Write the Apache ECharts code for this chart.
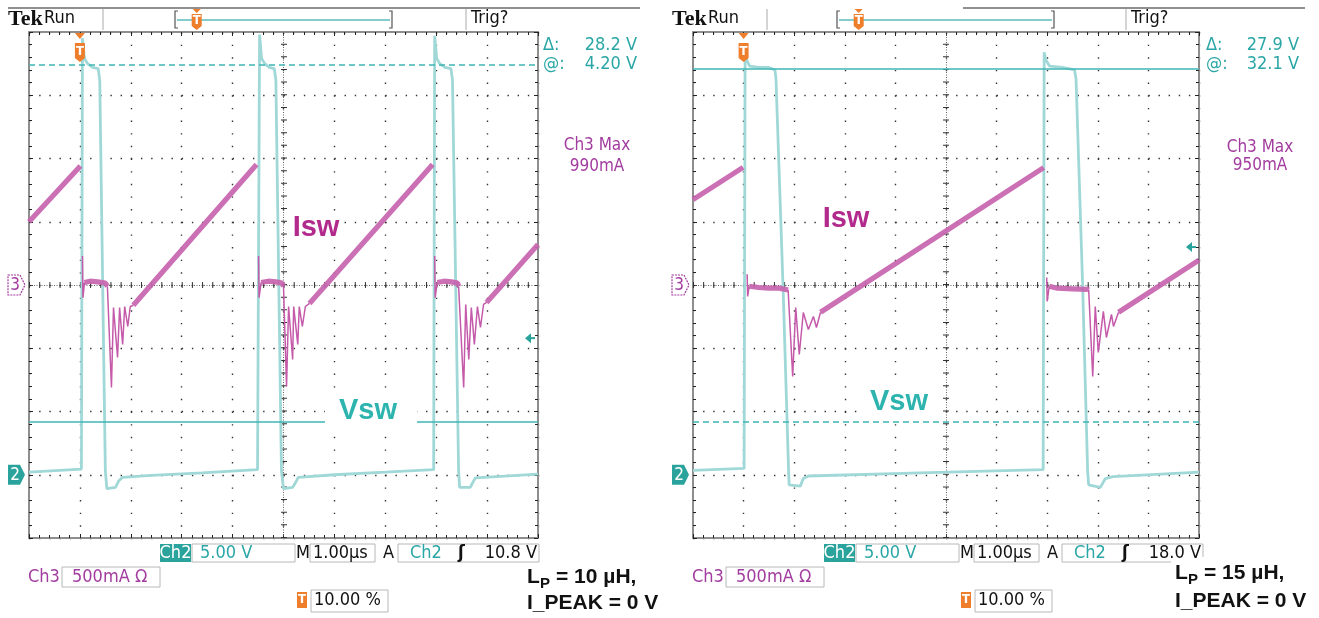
<!DOCTYPE html>
<html>
<head>
<meta charset="utf-8">
<title>Isw / Vsw scope captures</title>
<script src="https://cdn.jsdelivr.net/npm/echarts@6/dist/echarts.min.js"></script>
<style>
  html, body { margin: 0; padding: 0; background: #fff; }
  #chart { width: 1319px; height: 618px; }
</style>
</head>
<body>
<div id="chart"></div>
<script>
// time in µs (1 µs/div), Isw = Ch3 in mA (500 mA/div), Vsw = Ch2 in V (5 V/div)
// null = the trace breaks there

// --- L_P = 10 µH ---
const isw10Body = [
  [0, 500], [1.01, 940], null,
  [1.09, 20], [1.2, 30], [1.35, 25], [1.5, 15], [1.54, -10], null,
  [2.05, -160], [4.47, 952], null,
  [4.56, 20], [4.7, 30], [4.85, 25], [4.97, 15], [5.0, -10], null,
  [5.51, -146], [7.93, 952], null,
  [8.02, 20], [8.15, 30], [8.3, 25], [8.42, 15], [8.44, -10], null,
  [8.99, -138], [10, 320]
];
const isw10Ring = [
  [1.05, 230], [1.06, -100], [1.09, 20], null,
  [1.54, -10], [1.62, -810], [1.66, -178], [1.74, -573], [1.78, -178], [1.84, -470],
  [1.88, -170], [1.94, -328], [1.99, -170], [2.05, -160], null,
  [4.51, 230], [4.52, -100], [4.56, 20], null,
  [5.0, -10], [5.06, -802], [5.10, -170], [5.18, -589], [5.20, -170], [5.28, -470],
  [5.31, -170], [5.37, -328], [5.43, -170], [5.51, -146], null,
  [7.97, 230], [7.98, -100], [8.02, 20], null,
  [8.44, -10], [8.54, -810], [8.58, -154], [8.64, -589], [8.69, -178], [8.75, -470],
  [8.81, -170], [8.87, -336], [8.93, -154], [8.99, -138]
];
const vsw10 = [
  [0, 0.2], [1.03, 0.45], [1.05, 34.5], [1.09, 32.9], [1.15, 32.5], [1.25, 32.2], [1.36, 32.1],
  [1.39, 31.2], [1.50, 0.3], [1.53, -1.1], [1.70, -1.0], [1.76, -0.5], [1.84, -0.2], [2.4, -0.05],
  [3.4, 0.15], [4.49, 0.4],
  [4.53, 34.8], [4.57, 32.9], [4.63, 32.5], [4.72, 32.2], [4.82, 32.1], [4.85, 31.2], [4.96, 0.3],
  [5.0, -1.1], [5.18, -1.0], [5.24, -0.6], [5.29, -0.2], [6.0, 0.0], [7.0, 0.2], [7.95, 0.4],
  [7.97, 34.7], [8.01, 32.9], [8.07, 32.5], [8.17, 32.2], [8.29, 32.1], [8.32, 31.2], [8.44, 0.3],
  [8.46, -1.0], [8.67, -1.0], [8.72, -0.6], [8.77, -0.25], [10, 0.05]
];
const cursors10 = [32.4, 4.2];     // upper / lower cursor, V
const readout10 = ['28.2 V', '4.20 V', '990mA', '10.8 V', '10'];

// --- L_P = 15 µH ---
const isw15Body = [
  [0, 675], [0.99, 930], null,
  [1.11, -10], [1.3, -20], [1.5, -25], [1.7, -25], [1.88, -40], null,
  [2.52, -215], [6.93, 928], null,
  [7.04, -10], [7.2, -25], [7.5, -30], [7.8, -35], [7.82, -40], null,
  [8.41, -215], [10, 197]
];
const isw15Ring = [
  [1.07, 85], [1.08, -90], [1.11, -10], null,
  [1.88, -40], [1.97, -723], [2.03, -178], [2.10, -549], [2.18, -217], [2.28, -352],
  [2.38, -249], [2.44, -336], [2.52, -215], null,
  [6.99, 60], [7.0, -130], [7.04, -10], null,
  [7.82, -40], [7.90, -723], [7.95, -170], [8.01, -533], [8.11, -209], [8.17, -415],
  [8.27, -233], [8.31, -328], [8.41, -215]
];
const vsw15 = [
  [0, 0.35], [1.01, 0.5], [1.03, 33.5], [1.06, 32.8], [1.12, 32.3], [1.3, 32.2], [1.5, 32.2],
  [1.62, 32.0], [1.64, 31.3], [1.78, 14.8], [1.89, 0.2], [1.90, -0.8], [2.12, -0.9], [2.18, -0.3],
  [2.28, -0.1], [4.5, 0.15], [6.92, 0.4],
  [6.94, 33.4], [6.97, 32.8], [7.05, 32.3], [7.3, 32.2], [7.54, 32.0], [7.57, 31.3], [7.70, 15],
  [7.80, 0.2], [7.82, -0.8], [8.05, -1.0], [8.15, -0.3], [8.3, -0.15], [10, 0.2]
];
const cursors15 = [32.1, 4.2];
const readout15 = ['27.9 V', '32.1 V', '950mA', '18.0 V', '15'];

const trigLevels = [10.8, 18.0];   // V
const trigTime = 1.0;              // µs, 10 % pretrigger

// colours
const TEAL = '#2ba6a6', TEAL_BOX = '#2aa39c', CURSOR = '#3fb5b5';
const MAGENTA = '#a23c9e', ORANGE = '#ee7d2c';
const SCOPE_FONT = "'DejaVu Sans Condensed','Liberation Sans Narrow','DejaVu Sans',sans-serif";

const panels = [
  { left: 29, top: 32, width: 509, height: 506, isw: isw10Body, ring: isw10Ring, vsw: vsw10,
    cursors: cursors10, cursorDash: [[6, 4], 'solid'] },
  { left: 693, top: 32, width: 506, height: 506, isw: isw15Body, ring: isw15Ring, vsw: vsw15,
    cursors: cursors15, cursorDash: ['solid', [6, 4]] }
];

const toData = pts => pts.map(p => (p === null ? ['-', '-'] : p));

const grids = [], xAxes = [], yAxes = [], series = [];

panels.forEach((p, gi) => {
  const dx = p.width / 50, dy = p.height / 40;   // one minor division, px
  const frame = { show: true, onZero: false, lineStyle: { color: '#8e8e8e', width: 2 } };
  const tick = { show: true, inside: true, length: 4, lineStyle: { color: '#222', width: 1 } };
  const minor = { show: true, splitNumber: 5, length: 3, lineStyle: { color: '#222', width: 1 } };
  grids.push({ left: p.left, top: p.top, width: p.width, height: p.height, show: false });

  // time axes: bottom (with graticule) and top frame
  xAxes.push({
    type: 'value', gridIndex: gi, position: 'bottom', min: 0, max: 10, interval: 1,
    axisLine: frame, axisTick: tick, minorTick: minor, axisLabel: { show: false },
    splitLine: { show: true, lineStyle: { color: '#333', width: 1.4, type: [1.4, dy - 1.4] } }
  });
  xAxes.push({
    type: 'value', gridIndex: gi, position: 'top', min: 0, max: 10, interval: 1,
    axisLine: frame, axisTick: tick, minorTick: minor, axisLabel: { show: false },
    splitLine: { show: false }
  });
  // Ch3 (mA) left, Ch2 (V) right
  yAxes.push({
    type: 'value', gridIndex: gi, position: 'left', min: -2000, max: 2000, interval: 500,
    axisLine: frame, axisTick: tick, minorTick: minor, axisLabel: { show: false },
    splitLine: { show: true, lineStyle: { color: '#333', width: 1.4, type: [1.4, dx - 1.4] } }
  });
  yAxes.push({
    type: 'value', gridIndex: gi, position: 'right', min: -5, max: 35, interval: 5,
    axisLine: frame, axisTick: tick, minorTick: minor, axisLabel: { show: false },
    splitLine: { show: false }
  });

  const xi = gi * 2, yI = gi * 2, yV = gi * 2 + 1;
  series.push({
    type: 'line', name: 'Vsw', xAxisIndex: xi, yAxisIndex: yV, data: toData(p.vsw),
    symbol: 'none', z: 2, lineStyle: { color: '#a0d8d8', width: 2.8 },
    markLine: {
      silent: true, symbol: ['none', 'none'], label: { show: false }, z: 3, animation: false,
      data: p.cursors.map((v, i) => ({ yAxis: v, lineStyle: { color: CURSOR, width: 1.6, type: p.cursorDash[i] } }))
    }
  });
  series.push({
    type: 'line', name: 'Isw ringing', xAxisIndex: xi, yAxisIndex: yI, data: toData(p.ring),
    symbol: 'none', z: 2, lineStyle: { color: '#c45aa9', width: 1.5 }
  });
  series.push({
    type: 'line', name: 'Isw', xAxisIndex: xi, yAxisIndex: yI, data: toData(p.isw),
    symbol: 'none', z: 2, lineStyle: { color: '#c864af', width: 5.2, opacity: 0.92 },
    markLine: {
      silent: true, symbol: ['none', 'none'], label: { show: false }, z: 1, animation: false,
      data: [
        { xAxis: 5, lineStyle: { color: '#666', width: 1, type: [1, 1.5] } },
        { xAxis: 5, lineStyle: { color: '#333', width: 6, type: [1, dy - 1] } },
        { yAxis: 0, lineStyle: { color: '#666', width: 1, type: [1, 1.5] } },
        { yAxis: 0, lineStyle: { color: '#333', width: 6, type: [1, dx - 1] } }
      ]
    }
  });
});

const chart = echarts.init(document.getElementById('chart'), null, { renderer: 'canvas' });
chart.setOption({
  animation: false,
  backgroundColor: '#fff',
  grid: grids,
  xAxis: xAxes,
  yAxis: yAxes,
  series: series
});

// ---- scope decorations ----
const g = [];
const txt = (x, y, text, fill, size, extra) => g.push(Object.assign({
  type: 'text', x: x, y: y, z: 50,
  style: Object.assign({ text: text, fill: fill, font: size + 'px ' + SCOPE_FONT,
    textAlign: 'left', textVerticalAlign: 'middle' }, extra || {})
}));
const rect = (x, y, w, h, fill, stroke) => g.push({
  type: 'rect', z: 45, shape: { x: x, y: y, width: w, height: h },
  style: { fill: fill, stroke: stroke || null, lineWidth: 1 }
});
const line = (x1, y1, x2, y2, stroke, w) => g.push({
  type: 'line', z: 45, shape: { x1: x1, y1: y1, x2: x2, y2: y2 },
  style: { stroke: stroke, lineWidth: w || 1 }
});
const tBadge = (cx, top, h) => {
  g.push({ type: 'polygon', z: 46,
    shape: { points: [[cx - 5, top], [cx + 5, top], [cx + 5, top + h], [cx, top + h + 4], [cx - 5, top + h]] },
    style: { fill: ORANGE } });
  txt(cx, top + h / 2 + 1, 'T', '#fff', 13, { textAlign: 'center', font: 'bold 13px ' + SCOPE_FONT });
};

const layout = [
  { ox: 0, topLine: [8, 640], seps: [103, 466], br: [175, 392], trig: 471, tek: 8,
    dl: 543, dr: 637, maxX: 597, maxY: [146, 167] },
  { ox: 664, topLine: [963, 1305], seps: [767, 1126], br: [837, 1054], trig: 1131, tek: 672,
    dl: 1206, dr: 1299, maxX: 1260, maxY: [148, 166] }
];
const readouts = [readout10, readout15];

panels.forEach((p, gi) => {
  const L = layout[gi], R = readouts[gi], ox = L.ox;
  const xi = gi * 2;
  const ch3Zero = chart.convertToPixel({ xAxisIndex: xi, yAxisIndex: gi * 2 }, [0, 0]);
  const ch2Zero = chart.convertToPixel({ xAxisIndex: xi, yAxisIndex: gi * 2 + 1 }, [0, 0]);
  const trg = chart.convertToPixel({ xAxisIndex: xi, yAxisIndex: gi * 2 + 1 }, [10, trigLevels[gi]]);
  const tPos = chart.convertToPixel({ xAxisIndex: xi, yAxisIndex: gi * 2 }, [trigTime, 2000]);

  // top status bar
  line(L.topLine[0], 8, L.topLine[1], 8, '#222', 1.2);
  line(L.seps[0], 9, L.seps[0], 30, '#aaa', 1);
  line(L.seps[1], 9, L.seps[1], 30, '#aaa', 1);
  txt(L.tek, 19, 'Tek', '#111', 22, { font: 'bold 22px "Liberation Serif", serif' });
  txt(L.tek + 36, 18, 'Run', '#111', 18);
  txt(L.trig, 18, 'Trig?', '#111', 18);
  g.push({ type: 'polyline', z: 45, shape: { points: [[L.br[0] + 3, 11], [L.br[0], 11], [L.br[0], 28], [L.br[0] + 3, 28]] }, style: { stroke: '#555', lineWidth: 1.2, fill: null } });
  g.push({ type: 'polyline', z: 45, shape: { points: [[L.br[1] - 3, 11], [L.br[1], 11], [L.br[1], 28], [L.br[1] - 3, 28]] }, style: { stroke: '#555', lineWidth: 1.2, fill: null } });
  line(L.br[0] + 2, 20, L.br[1] - 2, 20, '#5cbcbc', 1.6);
  const miniT = L.br[0] + (L.br[1] - L.br[0]) * 0.1;
  g.push({ type: 'polygon', z: 46, shape: { points: [[miniT - 4, 9], [miniT + 4, 9], [miniT, 13]] }, style: { fill: ORANGE } });
  tBadge(miniT, 14, 12);

  // cursor / max readouts
  txt(L.dl, 45, 'Δ:', TEAL, 18);
  txt(L.dr, 45, R[0], TEAL, 18, { textAlign: 'right' });
  txt(L.dl, 64, '@:', TEAL, 18);
  txt(L.dr, 64, R[1], TEAL, 18, { textAlign: 'right' });
  txt(L.maxX, L.maxY[0], 'Ch3 Max', MAGENTA, 17, { textAlign: 'center' });
  txt(L.maxX, L.maxY[1], R[2], MAGENTA, 17, { textAlign: 'center' });

  // trigger position marker on the top edge
  g.push({ type: 'polygon', z: 46, shape: { points: [[tPos[0] - 5, tPos[1] + 1], [tPos[0] + 5, tPos[1] + 1], [tPos[0], tPos[1] + 7]] }, style: { fill: ORANGE } });
  tBadge(tPos[0], tPos[1] + 11, 15);

  // channel ground markers
  const mx = ch3Zero[0] - 21;
  g.push({ type: 'polygon', z: 46,
    shape: { points: [[mx, ch3Zero[1] - 10], [mx + 12, ch3Zero[1] - 10], [mx + 17, ch3Zero[1]], [mx + 12, ch3Zero[1] + 10], [mx, ch3Zero[1] + 10]] },
    style: { fill: '#fff', stroke: MAGENTA, lineWidth: 1.2, lineDash: [2, 1] } });
  txt(mx + 7, ch3Zero[1] + 1, '3', MAGENTA, 17, { textAlign: 'center' });
  g.push({ type: 'polygon', z: 46,
    shape: { points: [[mx, ch2Zero[1] - 10], [mx + 12, ch2Zero[1] - 10], [mx + 17, ch2Zero[1]], [mx + 12, ch2Zero[1] + 10], [mx, ch2Zero[1] + 10]] },
    style: { fill: TEAL_BOX } });
  txt(mx + 7, ch2Zero[1] + 1, '2', '#fff', 17, { textAlign: 'center' });

  // trigger level arrow on the right edge
  const ax = trg[0] - 13;
  g.push({ type: 'polygon', z: 46, shape: { points: [[ax, trg[1]], [ax + 6, trg[1] - 5], [ax + 6, trg[1] + 5]] }, style: { fill: TEAL_BOX } });
  line(ax + 6, trg[1], ax + 10, trg[1], TEAL_BOX, 2);

  // bottom readouts
  rect(160 + ox, 544, 31, 18, TEAL_BOX);
  txt(175.5 + ox, 553, 'Ch2', '#fff', 18, { textAlign: 'center' });
  rect(192 + ox, 544, 103, 18, '#fff', '#b8b8b8');
  txt(200 + ox, 553, '5.00 V', TEAL, 18);
  txt(296 + ox, 553, 'M', '#111', 18);
  rect(310 + ox, 544, 65, 18, '#fff', '#b8b8b8');
  txt(313 + ox, 553, '1.00µs', '#111', 18);
  txt(383 + ox, 553, 'A', '#111', 18);
  rect(398 + ox, 544, 141, 18, '#fff', '#b8b8b8');
  txt(410 + ox, 553, 'Ch2', TEAL, 18);
  txt(458 + ox, 553, 'ʃ', '#111', 18, { font: 'bold 18px ' + SCOPE_FONT });
  txt(537 + ox, 553, R[3], '#111', 18, { textAlign: 'right' });
  txt(28 + ox, 577, 'Ch3', MAGENTA, 18);
  rect(62 + ox, 567, 98, 20, '#fff', '#b8b8b8');
  txt(72 + ox, 577, '500mA Ω', MAGENTA, 18);
  rect(297 + ox, 592, 10, 16, ORANGE);
  txt(302 + ox, 600, 'T', '#fff', 13, { textAlign: 'center', font: 'bold 13px ' + SCOPE_FONT });
  rect(311 + ox, 590, 77, 22, '#fff', '#b8b8b8');
  txt(314 + ox, 600, '10.00 %', '#111', 18);
});

// pasted annotations: inductance labels
[[527, 577, 603, 563], [1175, 573, 601, 557]].forEach((a, i) => {
  rect(a[0] - 4, a[3], 150, 618 - a[3], '#fff');
  const lp = [readout10, readout15][i][4];
  const f = 'bold 21px "Liberation Sans", Arial, sans-serif';
  txt(a[0], a[1], 'L', '#111', 21, { font: f });
  txt(a[0] + 13, a[1] + 7, 'P', '#111', 15, { font: 'bold 15px "Liberation Sans", Arial, sans-serif' });
  txt(a[0] + 29, a[1], '= ' + lp + ' µH,', '#111', 21, { font: f });
  txt(a[0], a[2], 'I_PEAK = 0 V', '#111', 21, { font: f });
});

// trace labels
const bigFont = 'bold 29px "Liberation Sans", Arial, sans-serif';
[[316, 228], [846, 219]].forEach(c => {
  g.push({ type: 'text', x: c[0], y: c[1], z: 50,
    style: { text: 'Isw', fill: '#b12a8c', font: bigFont, textAlign: 'center', textVerticalAlign: 'middle',
      backgroundColor: '#fff', padding: [0, 2] } });
});
rect(325, 392, 92, 38, '#fff');
rect(858, 386, 82, 27, '#fff');
[[368, 411], [899, 402]].forEach(c => {
  g.push({ type: 'text', x: c[0], y: c[1], z: 50,
    style: { text: 'Vsw', fill: '#2db4ae', font: bigFont, textAlign: 'center', textVerticalAlign: 'middle' } });
});

chart.setOption({ graphic: g });
</script>
</body>
</html>
